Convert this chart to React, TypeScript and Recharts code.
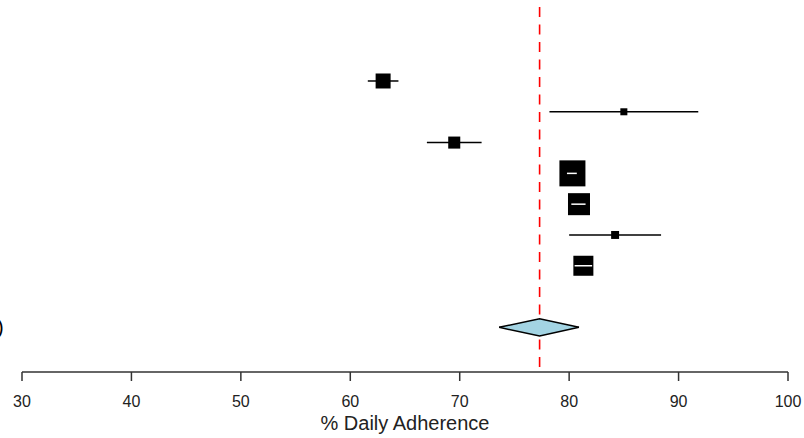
import {
  ComposedChart,
  XAxis,
  YAxis,
  Scatter,
  ErrorBar,
  Area,
  ReferenceLine,
} from 'recharts'

// study rows, top to bottom (metafor-style row numbers)
const studyRows = [7, 6, 5, 4, 3, 2, 1]
const estimates = [63.0, 85.0, 69.5, 80.3, 80.9, 84.2, 81.3]
const ciLower = [61.6, 78.2, 67.0, 79.8, 80.2, 80.0, 80.5]
const ciUpper = [64.4, 91.8, 72.0, 80.7, 81.5, 88.4, 82.1]
const weights = [11.0, 2.4, 7.1, 33.1, 23.7, 3.1, 19.6]

// pooled random-effects estimate
const summaryRow = -1
const summaryEst = [73.6, 77.3, 80.9] // lower, estimate, upper

const xTicks = [30, 40, 50, 60, 70, 80, 90, 100]

const FONT = '"Liberation Sans", Arial, Helvetica, sans-serif'
const DIAMOND_HALF = 0.28

const studies = studyRows.map((y, i) => ({
  x: estimates[i],
  y,
  w: weights[i],
  err: [estimates[i] - ciLower[i], ciUpper[i] - estimates[i]],
}))

// CIs that fit inside their box get drawn in white on top (like metafor)
const innerCIs = studies.filter((s, i) => ciUpper[i] - ciLower[i] < 1.8)

const diamond = [
  { x: summaryEst[0], band: [summaryRow, summaryRow] },
  { x: summaryEst[1], band: [summaryRow - DIAMOND_HALF, summaryRow + DIAMOND_HALF] },
  { x: summaryEst[2], band: [summaryRow, summaryRow] },
]

function Box(props: any) {
  const { cx, cy, payload } = props
  const side = 4.52 * Math.sqrt(payload.w)
  return <rect x={cx - side / 2} y={cy - side / 2} width={side} height={side} fill="#000" />
}

const Nothing = () => <g />

export default function App() {
  return (
    <div style={{ position: 'absolute', left: 0, top: 0, width: 804, height: 438, background: '#fff' }}>
      <ComposedChart
        width={804}
        height={438}
        data={diamond}
        margin={{ top: 0, right: 16, bottom: 0, left: 22 }}
        style={{ fontFamily: FONT }}
      >
        <XAxis
          type="number"
          dataKey="x"
          domain={[30, 100]}
          ticks={xTicks}
          allowDataOverflow
          height={66}
          tickSize={9}
          tickMargin={15}
          axisLine={{ stroke: '#333', strokeWidth: 1.5 }}
          tickLine={{ stroke: '#333', strokeWidth: 1.5 }}
          tick={{ fill: '#222', fontSize: 16, fontFamily: FONT }}
          label={{
            value: '% Daily Adherence',
            position: 'insideBottom',
            offset: 8,
            fill: '#222',
            fontSize: 20,
            fontFamily: FONT,
          }}
        />
        <YAxis type="number" hide domain={[-2.45, 9.63]} allowDataOverflow />
        <ReferenceLine
          x={summaryEst[1]}
          stroke="#ff0000"
          strokeWidth={1.6}
          strokeDasharray="10 7.5"
          strokeDashoffset={-5}
          zIndex={50}
        />
        <Area
          dataKey="band"
          type="linear"
          stroke="#000"
          strokeWidth={1.5}
          fill="#a3d4e3"
          fillOpacity={1}
          dot={false}
          activeDot={false}
          isAnimationActive={false}
          zIndex={500}
        />
        <Scatter data={studies} dataKey="y" shape={Box} isAnimationActive={false} zIndex={600}>
          <ErrorBar dataKey="err" direction="x" width={0} stroke="#000" strokeWidth={1.5} zIndex={550} />
        </Scatter>
        <Scatter data={innerCIs} dataKey="y" shape={Nothing} isAnimationActive={false} zIndex={700}>
          <ErrorBar dataKey="err" direction="x" width={0} stroke="#fff" strokeWidth={1.5} zIndex={800} />
        </Scatter>
      </ComposedChart>
      <div
        style={{
          position: 'absolute',
          left: -3,
          top: 315,
          fontFamily: FONT,
          fontSize: 20,
          lineHeight: '24px',
          color: '#000',
        }}
      >
        )
      </div>
    </div>
  )
}
